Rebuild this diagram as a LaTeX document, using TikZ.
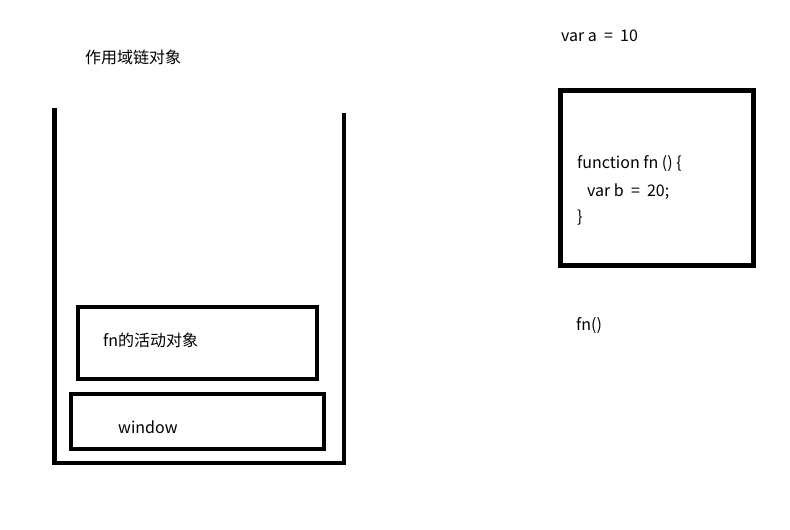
\documentclass[tikz,border=0pt]{standalone}
\usepackage{fontspec}
\setmainfont{Noto Sans CJK SC}
\usetikzlibrary{positioning}

\begin{document}
\begin{tikzpicture}[x=1pt,y=-1pt]
    \tikzstyle{frame}=[rectangle,draw,line width=4.5pt,inner sep=0pt] %
    \tikzstyle{txt}=[anchor=west,inner sep=0pt,%
    font=\fontsize{16}{20}\selectfont] %

    \useasboundingbox[fill=white] (0,0) rectangle (790,530);

    %% Stack
    \coordinate (TOPL) at (54.5,108);
    \coordinate (TOPR) at (344,113);
    \draw[line width=4.5pt] (TOPL) -- (54.5,463) -- (344,463) -- (TOPR);
    \node[txt] (CHAIN) at (85,57) {作用域链对象};

    \node[frame,minimum width=239pt,minimum height=72pt] (FNBOX) at (197.5,343) {};
    \node[txt] (FNTXT) at (103,340) {fn的活动对象};

    \node[frame,minimum width=253pt,minimum height=55pt] (WINBOX) at (197.5,421.5) {};
    \node[txt] (WINTXT) at (118,427) {window};

    %% Code
    \node[txt] (VARA) at (561,36) {var a\ \ =\ \ 10};
    \node[frame,minimum width=193pt,minimum height=175pt] (CODEBOX) at (657,178) {};
    \node[txt] (FUNC) at (577,164) {function fn () \{};
    \node[txt] (VARB) at (587,192) {var b\ \ =\ \ 20;};
    \node[txt] (CLOSE) at (577,218) {\}};
    \node[txt] (CALL) at (576,326) {fn()};
\end{tikzpicture}
\end{document}
